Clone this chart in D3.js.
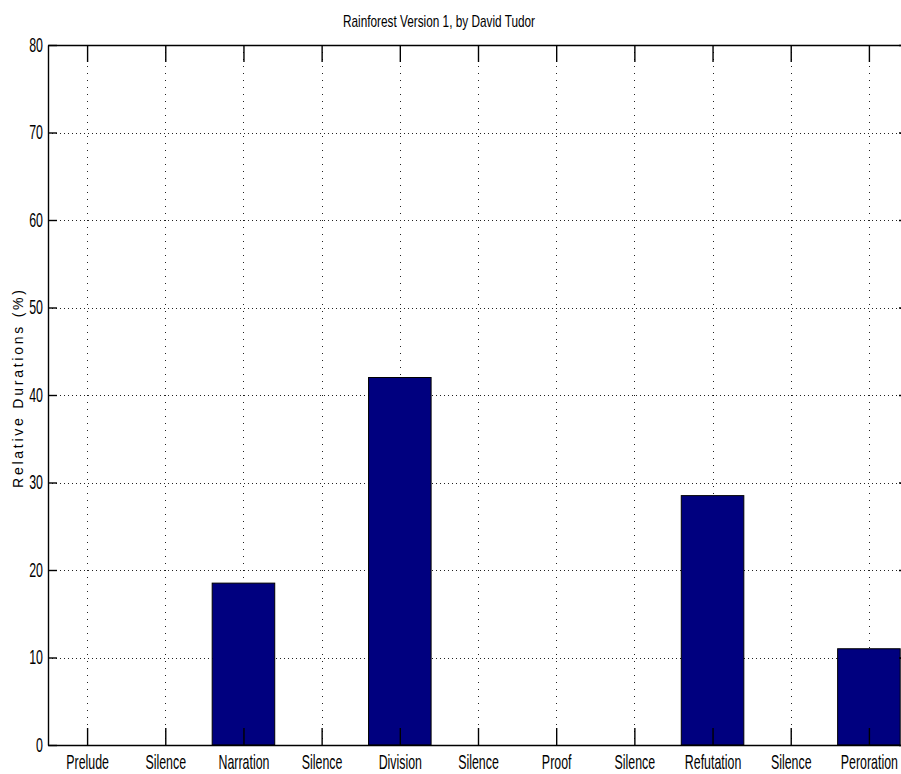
<!DOCTYPE html>
<html>
<head>
<meta charset="utf-8">
<script src="https://cdn.jsdelivr.net/npm/d3@7"></script>
<style>
  body { margin: 0; background: #fff; }
  svg { display: block; }
  text { font-family: "Liberation Sans", Arial, sans-serif; fill: #000; }
</style>
</head>
<body>
<svg id="chart" width="901" height="774"></svg>
<script>
// data
const categories = ["Prelude", "Silence", "Narration", "Silence", "Division", "Silence",
                    "Proof", "Silence", "Refutation", "Silence", "Peroration"]
const values = [0, 0, 18.5, 0, 42, 0, 0, 0, 28.5, 0, 11]
const y_ticks = [0, 10, 20, 30, 40, 50, 60, 70, 80]
const title = "Rainforest Version 1, by David Tudor"
const y_label = "Relative Durations (%)"

const svg = d3.select("#chart")

// axes box (right edge falls just outside the picture, as in the original)
const box = { left: 48, right: 908, top: 45, bottom: 745 }
const squash = 0.62   // the original text is very narrow

const x = d3.scaleLinear().domain([0.5, categories.length + 0.5]).range([box.left, box.right])
const y = d3.scaleLinear().domain([0, 80]).range([box.bottom, box.top])
const idx = d3.range(1, categories.length + 1)

// grid
const grid = svg.append("g").attr("stroke", "#222").attr("stroke-width", 1)
grid.selectAll("line.h")
  .data(y_ticks.filter(d => d > 0 && d < 80)).enter()
  .append("line")
  .attr("class", "h")
  .attr("x1", box.left).attr("x2", box.right)
  .attr("y1", d => Math.round(y(d)) + 0.5).attr("y2", d => Math.round(y(d)) + 0.5)
  .attr("stroke-dasharray", "1,3")
grid.selectAll("line.v")
  .data(idx).enter()
  .append("line")
  .attr("class", "v")
  .attr("x1", d => Math.round(x(d)) + 0.5).attr("x2", d => Math.round(x(d)) + 0.5)
  .attr("y1", box.top).attr("y2", box.bottom)
  .attr("stroke-dasharray", "1,6")

// bars
svg.append("g")
  .selectAll("rect")
  .data(values.map((v, i) => ({ i: i + 1, v: v })).filter(d => d.v > 0)).enter()
  .append("rect")
  .attr("x", d => x(d.i - 0.4))
  .attr("width", d => x(d.i + 0.4) - x(d.i - 0.4))
  .attr("y", d => y(d.v))
  .attr("height", d => y(0) - y(d.v))
  .attr("fill", "#00007f")
  .attr("stroke", "#000")
  .attr("stroke-width", 1)

// axes
const ax_bottom = d3.axisBottom(x).tickValues(idx).tickFormat(d => categories[d - 1])
  .tickSizeInner(-17).tickSizeOuter(0).tickPadding(10)
const ax_top = d3.axisTop(x).tickValues(idx).tickFormat("")
  .tickSizeInner(-17).tickSizeOuter(0)
const ax_left = d3.axisLeft(y).tickValues(y_ticks)
  .tickSizeInner(-9).tickSizeOuter(0).tickPadding(5)
const ax_right = d3.axisRight(y).tickValues(y_ticks).tickFormat("")
  .tickSizeInner(-9).tickSizeOuter(0)

function style_axis(g) {
  g.select(".domain").attr("stroke", "#000").attr("stroke-width", 1.4)
  g.selectAll(".tick line").attr("stroke", "#000").attr("stroke-width", 1.4)
  g.selectAll(".tick text").attr("font-size", 20).attr("fill", "#000")
}

svg.append("g").attr("transform", `translate(0,${box.bottom})`).call(ax_bottom).call(style_axis)
  .selectAll(".tick text").attr("transform", `scale(${squash},1)`)
svg.append("g").attr("transform", `translate(0,${box.top})`).call(ax_top).call(style_axis)
svg.append("g").attr("transform", `translate(${box.left},0)`).call(ax_left).call(style_axis)
  .selectAll(".tick text")
  .attr("x", null)
  .attr("transform", `translate(-5,0) scale(${squash},1)`)
svg.append("g").attr("transform", `translate(${box.right},0)`).call(ax_right).call(style_axis)

// title and y label
svg.append("text")
  .attr("x", 439).attr("y", 27)
  .attr("text-anchor", "middle")
  .attr("font-size", 17)
  .attr("textLength", 192).attr("lengthAdjust", "spacingAndGlyphs")
  .text(title)

svg.append("text")
  .attr("transform", "translate(23,389) rotate(-90)")
  .attr("text-anchor", "middle")
  .attr("font-size", 14)
  .attr("textLength", 198).attr("lengthAdjust", "spacing")
  .text(y_label)
</script>
</body>
</html>
